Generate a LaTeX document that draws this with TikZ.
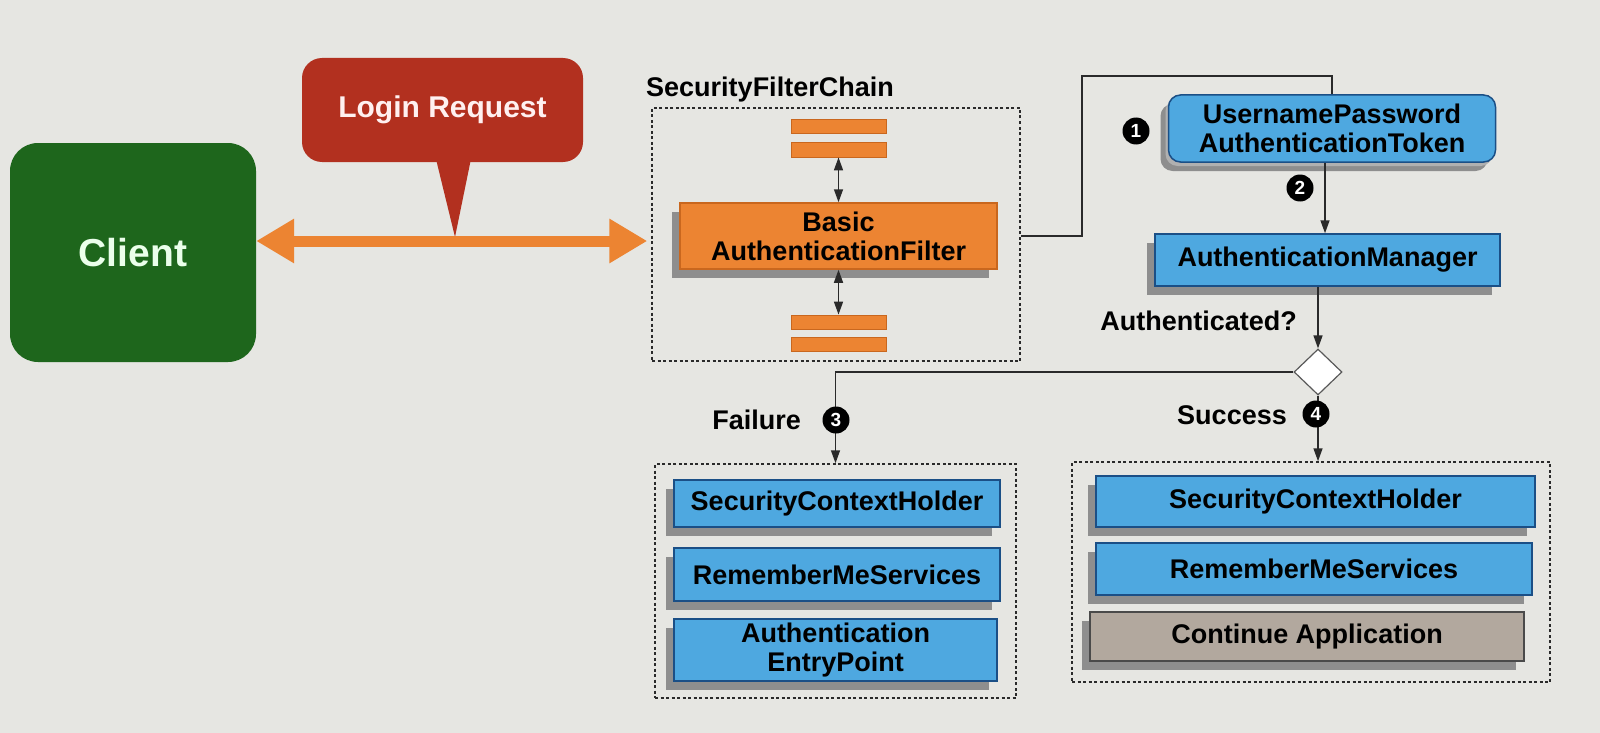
\documentclass[tikz,border=0pt]{standalone}
\usepackage{fontspec}
\setmainfont{Liberation Sans}
\usetikzlibrary{arrows.meta,shapes.geometric,shadows}
\definecolor{bg}{HTML}{E6E6E2}
\definecolor{clientgreen}{HTML}{1E661C}
\definecolor{loginred}{HTML}{B2301F}
\definecolor{orangec}{HTML}{EC8432}
\definecolor{orangeedge}{HTML}{C9671E}
\definecolor{boxblue}{HTML}{4EA8E0}
\definecolor{boxedge}{HTML}{1B4F86}
\definecolor{graybox}{HTML}{B2A89E}
\definecolor{grayedge}{HTML}{4A4A4A}
\definecolor{shadowgray}{HTML}{8E8E8E}
\definecolor{linec}{HTML}{2A2A2A}
\tikzset{
  lbl/.style={font=\fontsize{27}{30}\selectfont\bfseries, text=black, inner sep=0pt},
  box/.style={draw=boxedge, line width=1.5pt, fill=boxblue, align=center, inner sep=0pt,
    font=\fontsize{27}{29}\selectfont\bfseries,
    general shadow={fill=shadowgray, shadow xshift=-8pt, shadow yshift=-9pt}},
  orangebox/.style={box, draw=orangeedge, fill=orangec},
  bar/.style={draw=orangeedge, line width=0.8pt, fill=orangec, minimum width=95pt, inner sep=0pt},
  graybx/.style={box, fill=graybox, draw=grayedge},
  dashbox/.style={draw=linec, line width=1.5pt, dash pattern=on 3pt off 2.5pt, inner sep=0pt},
  conn/.style={draw=linec, line width=1.5pt},
  arr/.style={conn, -{Triangle[length=13pt,width=9pt]}},
  darr/.style={conn, {Triangle[length=13pt,width=9pt]}-{Triangle[length=13pt,width=9pt]}},
  badge/.style={circle, fill=black, text=white, minimum size=27pt, inner sep=0pt,
    font=\fontsize{19}{19}\selectfont\bfseries},
}
\begin{document}
\begin{tikzpicture}[x=1pt,y=-1pt]
\useasboundingbox (0,0) rectangle (1600,733);
\fill[bg] (0,0) rectangle (1600,733);

% Client
\node[fill=clientgreen, rounded corners=28pt, minimum width=246pt, minimum height=219pt,
      text=white!92!green, font=\fontsize{39}{41}\selectfont\bfseries] (client) at (133,252.5) {Client};

% Login request callout
\node[fill=loginred, rounded corners=20pt, minimum width=281pt, minimum height=104pt,
      text=white!94!red, font=\fontsize{30}{32}\selectfont\bfseries] (login) at (442.5,110) {Login Request};
\fill[loginred] ([xshift=-6pt,yshift=1pt]login.south) -- ([xshift=28pt,yshift=1pt]login.south) -- (455,237) -- cycle;

% Security filter chain
\node[dashbox, minimum width=368pt, minimum height=253pt] (chainbox) at (836,234.5) {};
\node[lbl, anchor=base west] (chainlbl) at (646,97) {SecurityFilterChain};
\node[bar, minimum height=14pt] (b1) at (838.5,126) {};
\node[bar, minimum height=15pt] (b2) at (838.5,149.5) {};
\node[bar, minimum height=14pt] (b3) at (838.5,322) {};
\node[bar, minimum height=14pt] (b4) at (838.5,344) {};
\node[orangebox, minimum width=317pt, minimum height=66pt] (filter) at (838.5,236) {Basic\\AuthenticationFilter};
\draw[darr] (b2.south) -- (filter.north);
\draw[darr] (filter.south) -- (b3.north);

% Orange double arrow
\coordinate (ay) at (0,241);
\draw[draw=orangec, line width=11pt,
      {Triangle[length=38pt,width=42pt]}-{Triangle[length=38pt,width=42pt]},
      shorten >=4pt] (client.east |- ay) -- (chainbox.west |- ay);

% Token and manager
\node[box, rounded corners=12pt, minimum width=327pt, minimum height=67pt,
      general shadow={fill=shadowgray!70, shadow xshift=-3pt, shadow yshift=-4pt}] (token) at (1332,128.5) {UsernamePassword\\AuthenticationToken};
\coordinate (turn) at (1082,76);
\draw[conn] (filter.east -| chainbox.east) -| (turn) -| (token.north);
\node[badge] (n1) at (1136,131) {1};

\node[box, minimum width=345pt, minimum height=52pt] (manager) at (1327.5,260) {AuthenticationManager};
\draw[arr] ([xshift=-7pt]token.south) -- ([xshift=-7pt]token.south |- manager.north);
\node[badge] (n2) at (1300,188) {2};

% Decision
\node[diamond, draw=gray!70!black, fill=white, line width=1.2pt, minimum width=48pt, minimum height=46pt, inner sep=0pt] (dec) at (1318,372) {};
\draw[arr] (dec.north |- manager.south) -- (dec.north);
\node[lbl, anchor=base east] (authq) at (1297,330) {Authenticated?};

% Failure branch
\node[dashbox, minimum width=361pt, minimum height=234pt] (failbox) at (835.5,581) {};
\draw[arr] (dec.west) -| (failbox.north);
\node[badge] (n3) at (836,420) {3};
\node[lbl, anchor=base east] (faill) at (801,429) {Failure};
\node[box, minimum width=326pt, minimum height=47pt] (f1) at (837,503.5) {SecurityContextHolder};
\node[box, minimum width=326pt, minimum height=53pt] (f2) at (837,574.5) {RememberMeServices};
\node[box, minimum width=323pt, minimum height=62pt] (f3) at (835.5,650) {Authentication\\EntryPoint};

% Success branch
\node[dashbox, minimum width=478pt, minimum height=220pt] (succbox) at (1311,572) {};
\draw[arr] (dec.south) -- (dec.south |- succbox.north);
\node[badge] (n4) at (1316,414) {4};
\node[lbl, anchor=base east] (succl) at (1287,424) {Success};
\node[box, minimum width=439pt, minimum height=51pt] (s1) at (1315.5,501.5) {SecurityContextHolder};
\node[box, minimum width=436pt, minimum height=52pt] (s2) at (1314,569) {RememberMeServices};
\node[graybx, minimum width=434pt, minimum height=49pt] (s3) at (1307,636.5) {Continue Application};
\end{tikzpicture}
\end{document}
